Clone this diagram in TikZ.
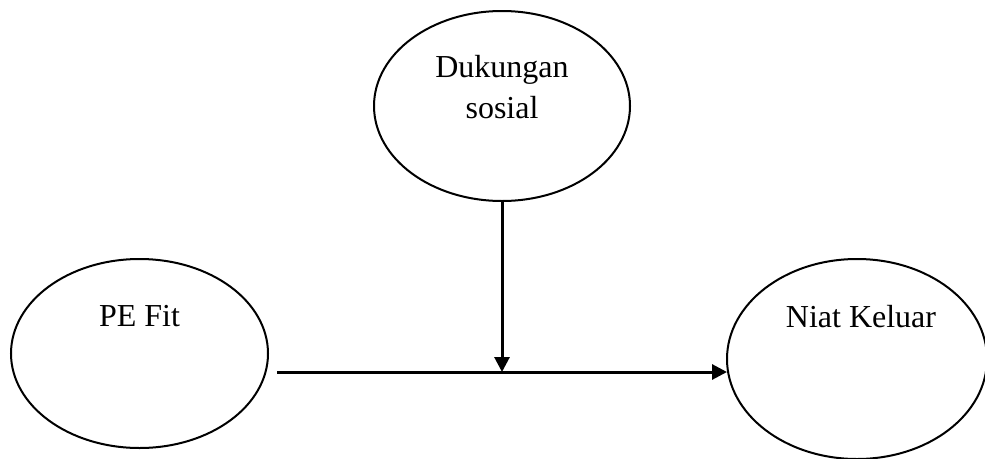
\documentclass[tikz,border=0pt]{standalone}
\usepackage{fontspec}
\setmainfont{Liberation Serif}
\usetikzlibrary{arrows.meta,shapes.geometric}
\begin{document}
\begin{tikzpicture}[x=1pt,y=-1pt,
  oval/.style={draw=black,line width=2pt,ellipse,inner sep=0pt},
  lbl/.style={font=\fontsize{32}{41}\selectfont,align=center,inner sep=0pt,anchor=base},
  link/.style={line width=3pt,-{Triangle[length=15pt,width=15pt]}}]
\useasboundingbox (0,0) rectangle (985,458);
\clip (0,0) rectangle (985,458);
\node[oval,minimum width=256pt,minimum height=190pt] (duk) at (502,106) {};
\node[oval,minimum width=257pt,minimum height=189pt] (pe) at (139.5,353.5) {};
\node[oval,minimum width=260pt,minimum height=200pt] (niat) at (857,359) {};
\node[lbl] (dukt) at (502,118) {Dukungan\\sosial};
\node[lbl] (pet) at (139.5,326) {PE Fit};
\node[lbl] (niatt) at (861,327) {Niat Keluar};
\coordinate (s) at (277,372);
\coordinate (j) at (duk.south |- s);
\coordinate (e) at (727,372);
\draw[link] (s) -- (e);
\draw[link] (duk.south) -- (j);
\end{tikzpicture}
\end{document}
